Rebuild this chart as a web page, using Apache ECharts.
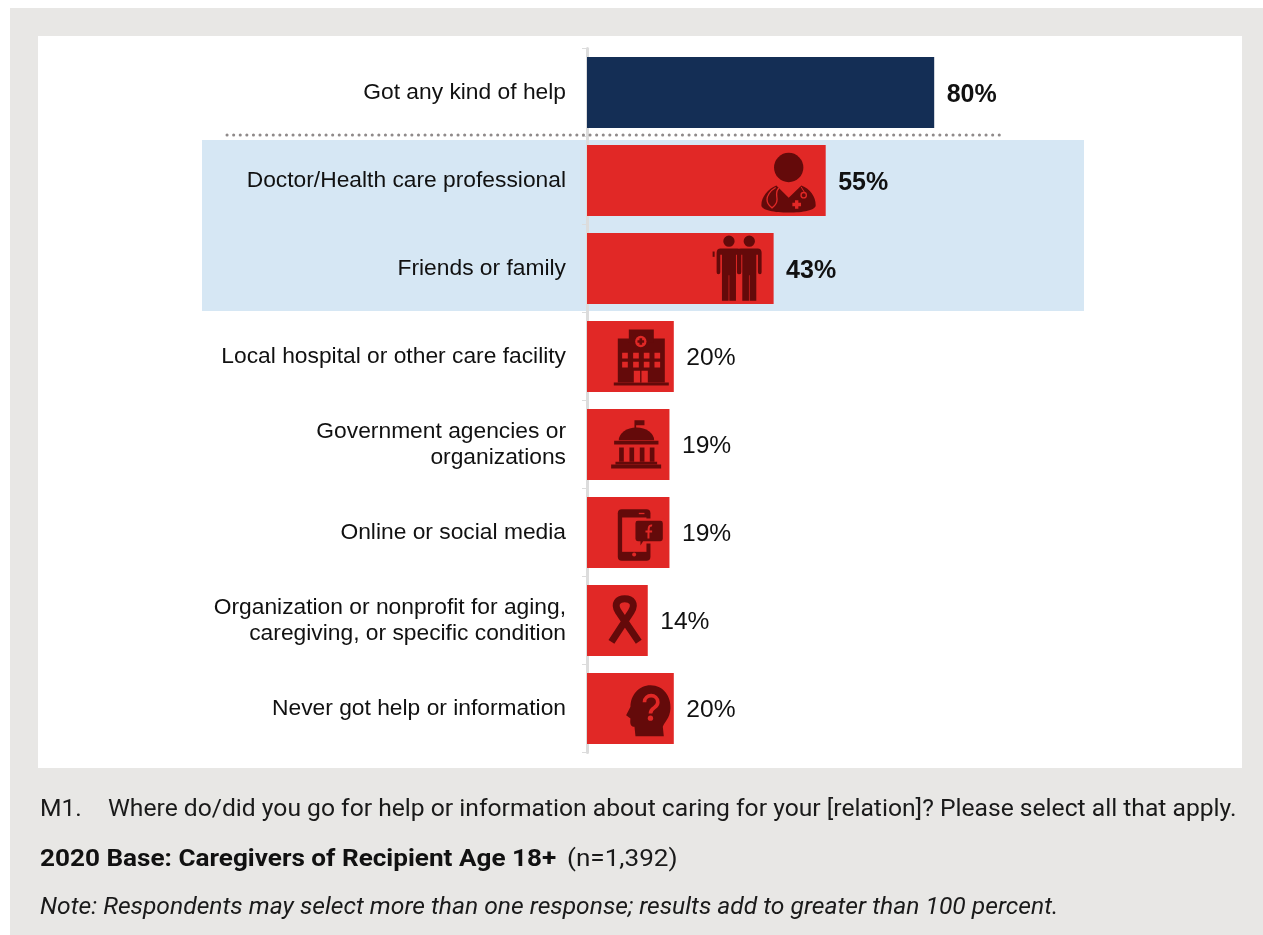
<!DOCTYPE html>
<html><head><meta charset="utf-8">
<style>html,body{margin:0;padding:0;background:#fff}#c{width:1263px;height:935px}</style>
<script src="https://cdn.jsdelivr.net/npm/echarts@6/dist/echarts.min.js"></script>
</head><body><div id="c"></div>
<script>
const categories = ['Got any kind of help','Doctor/Health care professional','Friends or family','Local hospital or other care facility','Government agencies or\norganizations','Online or social media','Organization or nonprofit for aging,\ncaregiving, or specific condition','Never got help or information'];
const values = [80,55,43,20,19,19,14,20];
const iconNames = ['', 'doctor','people','hospital','government','phone','ribbon','head'];
const boldRows = [0,1,2];
const NAVY='#142E55', RED='#E12826', DARK='#640A0A';

function rect(x,y,w,h){return `M${x} ${y}H${x+w}V${y+h}H${x}Z`;}
function circ(x,y,r){return `M${x-r} ${y}A${r} ${r} 0 1 0 ${x+r} ${y}A${r} ${r} 0 1 0 ${x-r} ${y}Z`;}
function person(c){return circ(c,633,17)+`M${c-25} 655H${c+25}Q${c+37} 655 ${c+37} 668V726Q${c+37} 732 ${c+32} 732Q${c+26} 732 ${c+26} 726V674H${c+21}V812H${c+1}V735H${c-1}V812H${c-21}V674H${c-26}V726Q${c-26} 732 ${c-32} 732Q${c-37} 732 ${c-37} 726V668Q${c-37} 655 ${c-25} 655Z`;}
const fillD=d=>({d,fill:DARK}), fillR=d=>({d,fill:RED}), strokeR=(d,w)=>({d,stroke:RED,w}), strokeD=(d,w)=>({d,stroke:DARK,w});
const icons = {
 doctor:{a:[768,451],p:[
  fillD(circ(657,412,44)),
  fillD('M620 466L657 503L695 466C722 476 738 500 738 525C738 540 700 547 657 547C615 547 575 540 575 525C575 500 595 476 620 466Z'),
  strokeR('M618 472C600 482 592 498 592 508C592 520 600 528 607 533C614 528 622 520 622 508C622 498 616 482 628 474',4),
  strokeR(circ(702,495,8),4),
  strokeR('M694 470L704 486',3),
  fillR(rect(676,510,10,26)+rect(668,518,26,10))
 ]},
 people:{a:[610,715],p:[
  fillD(person(476)), fillD(person(537)), fillD(rect(427,664,6,16))
 ]},
 hospital:{a:[310,139],p:[
  fillD(rect(130,217,165,9)), fillD(rect(142,85,141,132)), fillD(rect(175,58,75,40)),
  fillR(circ(211,94,17)), fillD(rect(207,84,8,20)+rect(201,90,20,8)),
  fillR(rect(155,128,17,17)+rect(188,128,17,17)+rect(220,128,17,17)+rect(252,128,17,17)),
  fillR(rect(155,155,17,17)+rect(188,155,17,17)+rect(220,155,17,17)+rect(252,155,17,17)),
  fillR(rect(190,182,19,35)+rect(213,182,19,35))
 ]},
 government:{a:[297,403],p:[
  fillD(rect(192,330,5,30)+rect(197,330,25,15)),
  fillD('M145 390A53 38 0 0 1 251 390Z'),
  fillD(rect(131,392,133,11)),
  fillD(rect(146,412,14,43)+rect(177,412,14,43)+rect(208,412,14,43)+rect(238,412,14,43)),
  fillD(rect(135,455,125,8)), fillD(rect(122,463,150,12))
 ]},
 phone:{a:[297,667],p:[
  fillD('M154 597H228Q240 597 240 609V740Q240 752 228 752H154Q142 752 142 740V609Q142 597 154 597Z'),
  fillR(rect(155,622,73,103)), fillR(rect(205,608,17,4)), fillR(circ(191,733,6)),
  fillR('M196 625H276Q284 625 284 633V692Q284 700 276 700H222L206 716V700H196Q188 700 188 692V633Q188 625 196 625Z'),
  fillD('M202 632H270Q277 632 277 639V686Q277 693 270 693H218L210 706V693H202Q195 693 195 686V639Q195 632 202 632Z'),
  strokeR('M245 646C233 644 234 655 234 685M225 664H245',6)
 ]},
 ribbon:{a:[234,933],p:[
  strokeD('M207 997L146 907C130 882 145 868 165 868C185 868 200 882 184 907L125 997',21)
 ]},
 head:{a:[310,1195],p:[
  fillD('M240 1125C280 1125 302 1160 300 1195C298 1225 282 1235 277 1250L280 1278H195L192 1250C180 1250 178 1240 180 1225L167 1215L180 1190C180 1155 205 1125 240 1125Z'),
  strokeR('M222 1176C222 1150 262 1150 262 1176C262 1195 240 1190 240 1210',11),
  fillR(circ(240,1224,8))
 ]}
};
function renderIcon(params, api){
  const idx = params.dataIndex, ic = icons[iconNames[idx]];
  if(!ic) return null;
  const pt = api.coord([api.value(0), idx]);
  return {type:'group', x:pt[0]-ic.a[0]/3, y:pt[1]-ic.a[1]/3, scaleX:1/3, scaleY:1/3, silent:true,
    children: ic.p.map(s=>({type:'path', shape:{pathData:s.d},
      style: s.stroke ? {fill:null, stroke:s.stroke, lineWidth:s.w} : {fill:s.fill}}))};
}
const FOOT='Roboto', FS=24, SX=1.027, SXB=1.088;
const chart = echarts.init(document.getElementById('c'), null, {renderer:'canvas'});
chart.setOption({
  animation:false,
  backgroundColor:'#fff',
  grid:{left:587,top:48.5,width:434,height:704,containLabel:false},
  xAxis:{type:'value',min:0,max:100,show:false},
  yAxis:{type:'category',inverse:true,data:categories,offset:1.5,
    axisLine:{show:true,lineStyle:{color:'#DCDCDC',width:3}},
    axisTick:{show:true,length:5,lineStyle:{color:'#DCDCDC',width:1}},
    axisLabel:{color:'#111',fontFamily:'Liberation Sans',fontSize:22.8,lineHeight:26,align:'right',margin:19.5,interval:0,padding:[3,0,0,0]},
    splitLine:{show:false}},
  graphic:[
    {type:'rect',z:-10,silent:true,shape:{x:10,y:8,width:1253,height:927},style:{fill:'#E8E7E5'}},
    {type:'rect',z:-9,silent:true,shape:{x:38,y:36,width:1204,height:732},style:{fill:'#fff'}},
    {type:'rect',z:-8,silent:true,shape:{x:202,y:140,width:882,height:171},style:{fill:'#D6E7F4'}},
    {type:'line',z:5,silent:true,shape:{x1:227,y1:135,x2:1004,y2:135},style:{stroke:'#8F8A8A',lineWidth:3,lineCap:'round',lineDash:[0.1,6.5]}},
    {type:'text',z:5,x:40,y:810,scaleX:SX,style:{text:'M1.',fill:'#1a1a1a',font:FS+'px "'+FOOT+'"',textVerticalAlign:'middle'}},
    {type:'text',z:5,x:108,y:810,scaleX:SX,style:{text:'Where do/did you go for help or information about caring for your [relation]? Please select all that apply.',fill:'#1a1a1a',font:FS+'px "'+FOOT+'"',textVerticalAlign:'middle'}},
    {type:'text',z:5,x:40,y:860,scaleX:SXB,style:{text:'2020 Base: Caregivers of Recipient Age 18+',fill:'#111',font:'bold '+FS+'px "'+FOOT+'"',textVerticalAlign:'middle'}},
    {type:'text',z:5,x:567,y:860,scaleX:SXB,style:{text:'(n=1,392)',fill:'#1a1a1a',font:FS+'px "'+FOOT+'"',textVerticalAlign:'middle'}},
    {type:'text',z:5,x:40,y:908,scaleX:SX,style:{text:'Note: Respondents may select more than one response; results add to greater than 100 percent.',fill:'#1a1a1a',font:'italic '+FS+'px "'+FOOT+'"',textVerticalAlign:'middle'}}
  ],
  series:[
    {type:'bar',barWidth:71,z:2,
     data:values.map((v,i)=>({value:v,itemStyle:{color:i===0?NAVY:RED},
       label:{fontWeight:boldRows.includes(i)?'bold':'normal',fontSize:boldRows.includes(i)?25:24.6,offset:[0,boldRows.includes(i)?3:2]}})),
     label:{show:true,position:'right',distance:12.5,formatter:'{c}%',color:'#111',fontFamily:'Liberation Sans'}},
    {type:'custom',z:3,renderItem:renderIcon,encode:{x:0,y:1},clip:false,tooltip:{show:false},
     data:values.map((v,i)=>[v,i])}
  ]
});
</script></body></html>
